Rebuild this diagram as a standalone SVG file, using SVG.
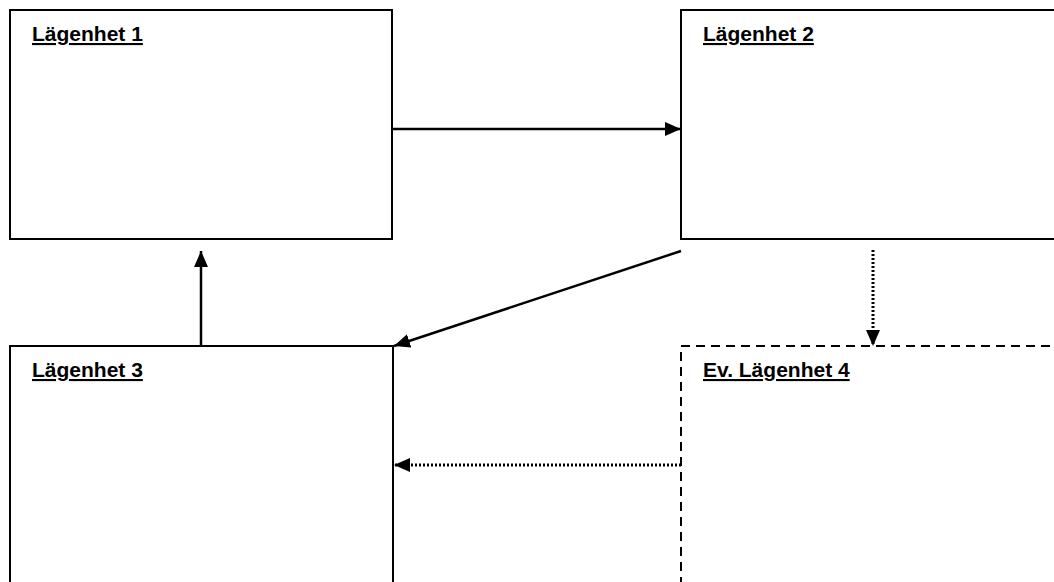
<svg xmlns="http://www.w3.org/2000/svg" width="1054" height="582" viewBox="0 0 1054 582">
<style>
.box{fill:#fff;stroke:#000;stroke-width:2}
.dash{stroke-dasharray:9 6}
.lbl{font-family:"Liberation Sans",Arial,sans-serif;font-size:21px;font-weight:bold;text-decoration:underline;fill:#000}
.c{stroke:#000;stroke-width:2.5;fill:none}
.dot{stroke-dasharray:2 2;stroke-width:3}
</style>
<defs>
<marker id="ah" viewBox="0 0 16 14" refX="16" refY="7" markerWidth="16" markerHeight="14" markerUnits="userSpaceOnUse" orient="auto">
<path d="M0,0 L16,7 L0,14 Z" fill="#000"/>
</marker>
</defs>
<g id="n1"><rect class="box" x="10" y="10" width="382" height="229"/><text class="lbl" x="32" y="41">Lägenhet 1</text></g>
<g id="n2"><rect class="box" x="681" y="10" width="400" height="229"/><text class="lbl" x="703" y="41">Lägenhet 2</text></g>
<g id="n3"><rect class="box" x="10" y="346" width="383" height="260"/><text class="lbl" x="32" y="377">Lägenhet 3</text></g>
<g id="n4"><rect class="box dash" x="681" y="346" width="400" height="260"/><text class="lbl" x="703" y="377">Ev. Lägenhet 4</text></g>
<g id="connectors">
<line class="c" x1="392" y1="129" x2="681" y2="129" marker-end="url(#ah)"/>
<line class="c" x1="201" y1="346" x2="201" y2="251" marker-end="url(#ah)"/>
<line class="c" x1="681" y1="251" x2="394" y2="346" marker-end="url(#ah)"/>
<line class="c dot" x1="873" y1="250" x2="873" y2="346" marker-end="url(#ah)"/>
<line class="c dot" x1="681" y1="465" x2="394" y2="465" marker-end="url(#ah)"/>
</g>
</svg>
